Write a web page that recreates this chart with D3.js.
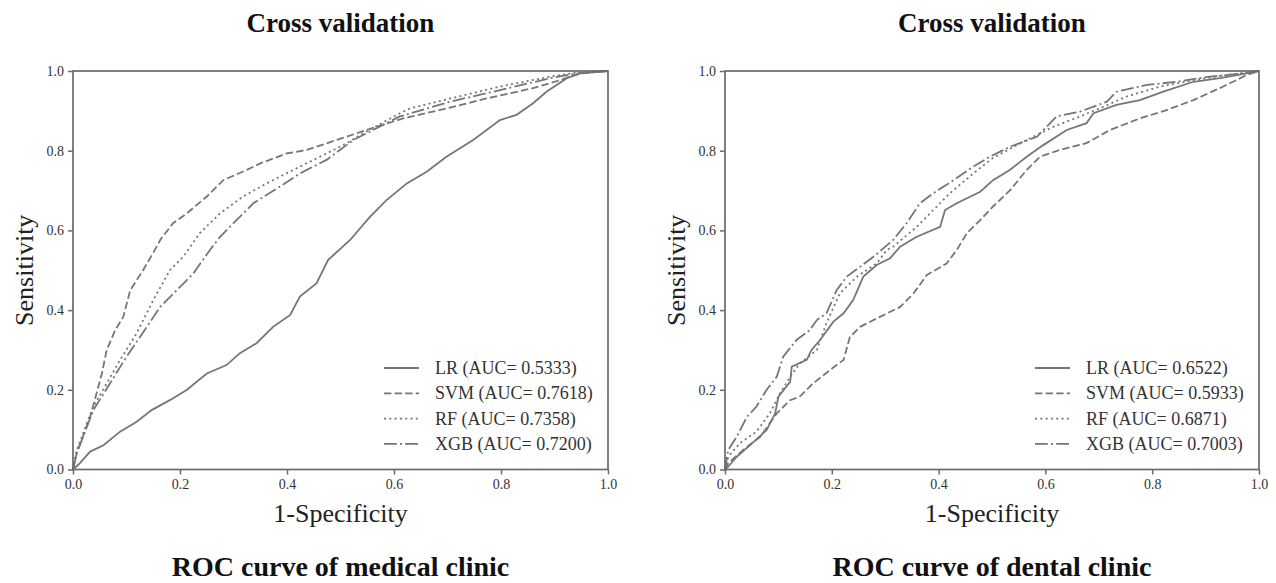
<!DOCTYPE html>
<html>
<head>
<meta charset="utf-8">
<script src="https://cdn.jsdelivr.net/npm/d3@7"></script>
<style>
  body { margin: 0; background: #fff; }
  svg { display: block; font-family: "Liberation Serif", "Times New Roman", serif; }
</style>
</head>
<body>
<div class="main"></div>
<script>
const ticks = [0, 0.2, 0.4, 0.6, 0.8, 1.0]
const models = ["LR", "SVM", "RF", "XGB"]
const titles = ["ROC curve of medical clinic", "ROC curve of dental clinic"]
const aucMedical = ["0.5333", "0.7618", "0.7358", "0.7200"]
const aucDental = ["0.6522", "0.5933", "0.6871", "0.7003"]

// [fpr, tpr] points
const medLR = [[0,0],[.013,.016],[.032,.045],[.057,.061],[.088,.095],[.119,.12],[.147,.149],[.181,.174],[.213,.2],[.25,.241],[.287,.262],[.312,.292],[.343,.317],[.374,.358],[.406,.388],[.424,.434],[.455,.467],[.477,.526],[.518,.576],[.555,.634],[.586,.676],[.624,.718],[.661,.747],[.698,.785],[.748,.827],[.798,.877],[.829,.89],[.86,.919],[.885,.948],[.923,.982],[.948,.994],[1,1]]
const medSVM = [[0,0],[.007,.041],[.032,.132],[.044,.191],[.054,.241],[.063,.3],[.079,.35],[.094,.383],[.107,.45],[.131,.5],[.153,.551],[.163,.576],[.187,.618],[.213,.643],[.25,.685],[.281,.726],[.325,.752],[.35,.768],[.399,.793],[.437,.802],[.493,.827],[.549,.852],[.617,.881],[.698,.906],[.773,.931],[.86,.957],[.91,.977],[.948,.994],[1,1]]
const medRF = [[0,0],[.007,.049],[.038,.158],[.063,.216],[.088,.275],[.119,.342],[.15,.425],[.181,.5],[.206,.534],[.237,.593],[.275,.643],[.318,.685],[.362,.718],[.412,.752],[.462,.785],[.505,.814],[.536,.839],[.611,.894],[.63,.906],[.705,.931],[.798,.961],[.892,.986],[.941,.996],[1,1]]
const medXGB = [[0,0],[.007,.041],[.038,.149],[.069,.216],[.1,.283],[.138,.358],[.163,.408],[.194,.45],[.225,.492],[.256,.551],[.275,.584],[.3,.618],[.337,.668],[.387,.71],[.424,.743],[.474,.777],[.524,.827],[.611,.886],[.705,.923],[.798,.952],[.892,.982],[.941,.994],[1,1]]

const denLR = [[0,0],[.006,.007],[.022,.032],[.047,.061],[.078,.099],[.094,.141],[.1,.183],[.122,.22],[.125,.258],[.153,.275],[.162,.3],[.178,.325],[.203,.371],[.222,.392],[.24,.425],[.259,.484],[.284,.513],[.309,.53],[.328,.559],[.359,.584],[.403,.609],[.412,.651],[.434,.668],[.478,.697],[.502,.726],[.534,.752],[.565,.785],[.596,.814],[.64,.852],[.677,.869],[.69,.894],[.733,.915],[.777,.927],[.821,.948],[.877,.973],[.927,.982],[.977,.994],[1,1]]
const denSVM = [[0,0],[.006,.016],[.034,.049],[.066,.082],[.097,.141],[.122,.174],[.14,.183],[.165,.216],[.197,.25],[.222,.275],[.234,.333],[.253,.358],[.29,.383],[.328,.408],[.353,.442],[.378,.488],[.415,.517],[.434,.551],[.453,.593],[.478,.626],[.502,.66],[.534,.701],[.565,.752],[.59,.785],[.627,.802],[.677,.819],[.721,.852],[.777,.881],[.827,.902],[.877,.927],[.933,.961],[.977,.99],[1,1]]
const denRF = [[0,0],[.006,.032],[.028,.066],[.059,.095],[.084,.141],[.103,.191],[.122,.233],[.14,.266],[.172,.3],[.19,.367],[.215,.442],[.247,.484],[.284,.517],[.303,.551],[.315,.559],[.359,.609],[.39,.651],[.421,.693],[.465,.743],[.502,.782],[.565,.827],[.615,.86],[.665,.886],[.708,.91],[.752,.936],[.815,.961],[.877,.977],[.94,.99],[1,1]]
const denXGB = [[0,0],[.006,.049],[.022,.082],[.041,.132],[.059,.158],[.078,.2],[.097,.233],[.109,.283],[.134,.325],[.159,.35],[.172,.375],[.19,.392],[.209,.45],[.228,.484],[.253,.509],[.278,.534],[.293,.551],[.315,.576],[.34,.618],[.365,.668],[.39,.693],[.428,.726],[.465,.76],[.496,.785],[.534,.81],[.584,.835],[.621,.886],[.665,.898],[.715,.923],[.733,.948],[.79,.965],[.846,.973],[.908,.986],[.97,.994],[1,1]]

const W = 1276, H = 583
const lineColor = "#767676"
// matplotlib-like dash patterns at lw ~2
const dashes = { LR: null, SVM: "7.4,3.2", RF: "2,3.3", XGB: "12.8,3.2,2,3.2" }

const svg = d3.select(".main")
    .append("svg")
    .attr("width", W)
    .attr("height", H)

function panel(x0, x1, title, curves, aucs) {
    const y0 = 469.5, y1 = 71
    const x = d3.scaleLinear().domain([0, 1]).range([x0, x1])
    const y = d3.scaleLinear().domain([0, 1]).range([y0, y1])
    const cx = (x0 + x1) / 2

    const g = svg.append("g")

    // curves
    const line = d3.line().x(d => x(d[0])).y(d => y(d[1]))
    g.selectAll(".curve")
        .data(models)
        .join("path")
        .attr("d", (m, i) => line(curves[i]))
        .attr("fill", "none")
        .attr("stroke", lineColor)
        .attr("stroke-width", 1.8)
        .attr("stroke-dasharray", m => dashes[m])

    // frame
    g.append("rect")
        .attr("x", x0).attr("y", y1)
        .attr("width", x1 - x0).attr("height", y0 - y1)
        .attr("fill", "none")
        .attr("stroke", "#6a6a6a")
        .attr("stroke-width", 1.7)

    const xAxis = g.append("g")
        .attr("transform", `translate(0, ${y0})`)
        .call(d3.axisBottom(x).tickValues(ticks).tickSize(5).tickPadding(5).tickFormat(d3.format(".1f")))
    const yAxis = g.append("g")
        .attr("transform", `translate(${x0}, 0)`)
        .call(d3.axisLeft(y).tickValues(ticks).tickSize(5).tickPadding(4).tickFormat(d3.format(".1f")))
    for (const a of [xAxis, yAxis]) {
        a.select(".domain").remove()
        a.selectAll("line").attr("stroke", "#6a6a6a").attr("stroke-width", 1.5)
        a.selectAll("text")
            .attr("fill", "#333")
            .style("font-family", "'Liberation Serif', 'Times New Roman', serif")
            .style("font-size", "14px")
    }

    // labels
    g.append("text")
        .attr("x", cx).attr("y", 522)
        .attr("text-anchor", "middle")
        .attr("font-size", 26)
        .attr("fill", "#222")
        .text("1-Specificity")
    g.append("text")
        .attr("transform", `translate(${x0 - 40}, ${(y0 + y1) / 2}) rotate(-90)`)
        .attr("text-anchor", "middle")
        .attr("font-size", 26)
        .attr("fill", "#222")
        .text("Sensitivity")

    g.append("text")
        .attr("x", cx).attr("y", 32)
        .attr("text-anchor", "middle")
        .attr("font-size", 27)
        .attr("font-weight", "bold")
        .attr("fill", "#111")
        .text("Cross validation")
    g.append("text")
        .attr("x", cx).attr("y", 576)
        .attr("text-anchor", "middle")
        .attr("font-size", 28)
        .attr("font-weight", "bold")
        .attr("fill", "#111")
        .text(title)

    // legend
    const lg = g.append("g").attr("transform", `translate(${x1 - 224}, 368)`)
    const rows = lg.selectAll("g")
        .data(models)
        .join("g")
        .attr("transform", (m, i) => `translate(0, ${i * 25.3})`)
    rows.append("line")
        .attr("x1", 0).attr("x2", 35)
        .attr("stroke", lineColor)
        .attr("stroke-width", 1.8)
        .attr("stroke-dasharray", m => dashes[m])
    rows.append("text")
        .attr("x", 51).attr("y", 6)
        .attr("font-size", 18)
        .attr("fill", "#333")
        .text((m, i) => `${m} (AUC= ${aucs[i]})`)
}

panel(73, 608, titles[0], [medLR, medSVM, medRF, medXGB], aucMedical)
panel(725, 1259, titles[1], [denLR, denSVM, denRF, denXGB], aucDental)
</script>
</body>
</html>
